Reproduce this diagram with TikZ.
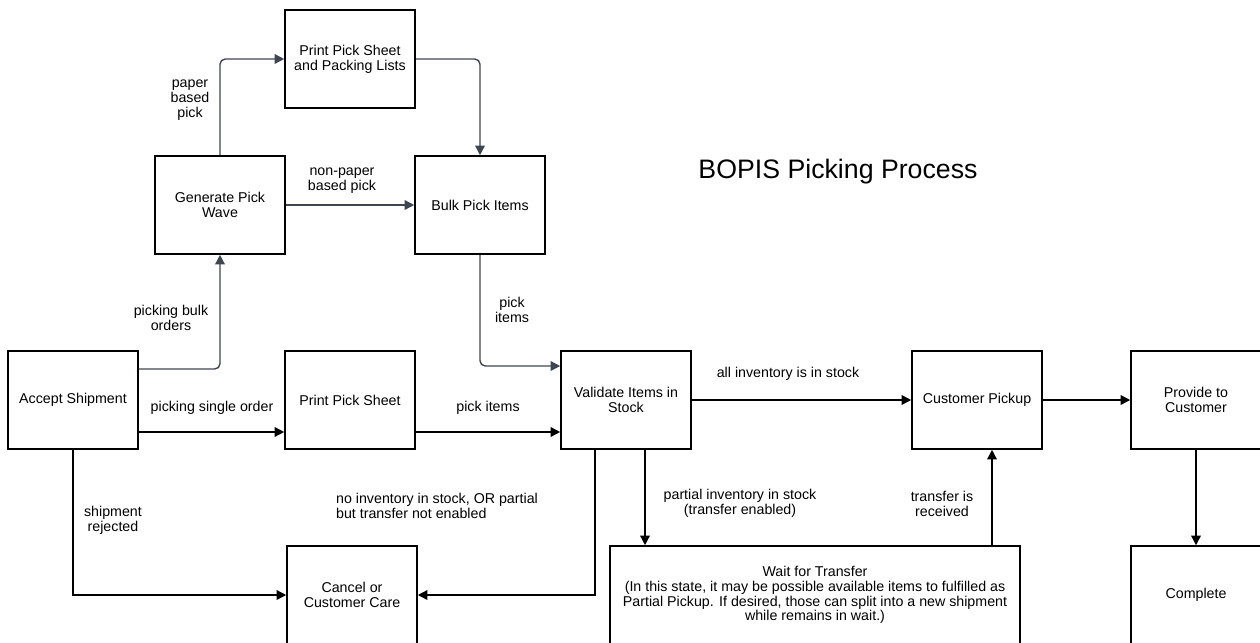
\documentclass[tikz,border=0pt]{standalone}
\usepackage{fontspec}
\setmainfont{Liberation Sans}
\usepackage{xcolor}
\usetikzlibrary{arrows.meta,positioning}
\definecolor{slate}{HTML}{3F4652}

\begin{document}
\begin{tikzpicture}[
  x=0.02cm, y=-0.02cm,
  stepbox/.style={draw, line width=0.9pt, align=center, inner sep=2pt, minimum width=2.6cm, minimum height=1.96cm, font=\fontsize{8.1}{8.4}\selectfont},
  lbl/.style={align=center, inner sep=1pt, font=\fontsize{8.1}{8.4}\selectfont},
  grayarrow/.style={-{Triangle[length=5.5pt,width=5.5pt]}, draw=slate, line width=0.8pt, rounded corners=3pt},
  arrow/.style={-{Triangle[length=5.5pt,width=5.5pt]}, line width=0.8pt}
]
  \useasboundingbox (0,0) rectangle (1260,642);
  \clip (0,0) rectangle (1260,642);

  % Title
  \node[font=\fontsize{15.2}{16}\selectfont] (title) at (838,172) {BOPIS Picking Process};

  % Bulk picking branch (top)
  \node[stepbox] (sheetlists) at (350,59) {Print Pick Sheet\\and Packing Lists};
  \node[stepbox] (wave) at (220,205) {Generate Pick\\Wave};
  \node[stepbox] (bulk) at (480,205) {Bulk Pick Items};

  % Main row
  \node[stepbox] (accept) at (73,400) {Accept Shipment};
  \node[stepbox] (sheet) at (350,400) {Print Pick Sheet};
  \node[stepbox] (validate) at (626,400) {Validate Items in\\Stock};
  \node[stepbox] (pickup) at (977,400) {Customer Pickup};
  \node[stepbox] (provide) at (1196,400) {Provide to\\Customer};

  % Bottom row
  \node[stepbox] (cancel) at (352,595) {Cancel or\\Customer Care};
  \node[stepbox, minimum width=8.2cm] (wait) at (815,595) {Wait for Transfer\\(In this state, it may be possible available items to fulfilled as\\Partial Pickup. If desired, those can split into a new shipment\\while remains in wait.)};
  \node[stepbox] (complete) at (1196,595) {Complete};

  % Gray connectors
  \draw[grayarrow] (wave.north) |- (sheetlists.west);
  \draw[grayarrow] (sheetlists.east) -| (bulk.north);
  \draw[grayarrow] (wave.east) -- (bulk.west);
  \draw[grayarrow] ([yshift=0.62cm]accept.east) -| (wave.south);
  \draw[grayarrow] (bulk.south) |- ([yshift=0.68cm]validate.west);

  % Black connectors
  \draw[arrow] ([yshift=-0.64cm]accept.east) -- ([yshift=-0.64cm]sheet.west);
  \draw[arrow] ([yshift=-0.64cm]sheet.east) -- ([yshift=-0.64cm]validate.west);
  \draw[arrow] (validate.east) -- (pickup.west);
  \draw[arrow] (pickup.east) -- (provide.west);
  \draw[arrow] (provide.south) -- (complete.north);
  \draw[arrow] ([xshift=0.38cm]validate.south) -- ([xshift=0.38cm]validate.south |- wait.north);
  \draw[arrow] ([xshift=0.3cm]pickup.south |- wait.north) -- ([xshift=0.3cm]pickup.south);
  \draw[arrow] ([xshift=-0.62cm]validate.south) |- (cancel.east);
  \draw[arrow] (accept.south) |- (cancel.west);

  % Connector labels
  \node[lbl] (lpaper) at (190,100) {paper\\based\\pick};
  \node[lbl] (lnonpaper) at (342,181) {non-paper\\based pick};
  \node[lbl] (lbulk) at (171,318) {picking bulk\\orders};
  \node[lbl] (lbulkitems) at (512,310) {pick\\items};
  \node[lbl] (lsingle) at (212,408) {picking single order};
  \node[lbl] (litems) at (488,408) {pick items};
  \node[lbl] (lall) at (788,374) {all inventory is in stock};
  \node[lbl] (lrejected) at (113,520) {shipment\\rejected};
  \node[lbl, align=left] (lnone) at (437,506) {no inventory in stock, OR partial\\but transfer not enabled};
  \node[lbl] (lpartial) at (740,503) {partial inventory in stock\\(transfer enabled)};
  \node[lbl] (lreceived) at (942,504) {transfer is\\received};
\end{tikzpicture}
\end{document}
